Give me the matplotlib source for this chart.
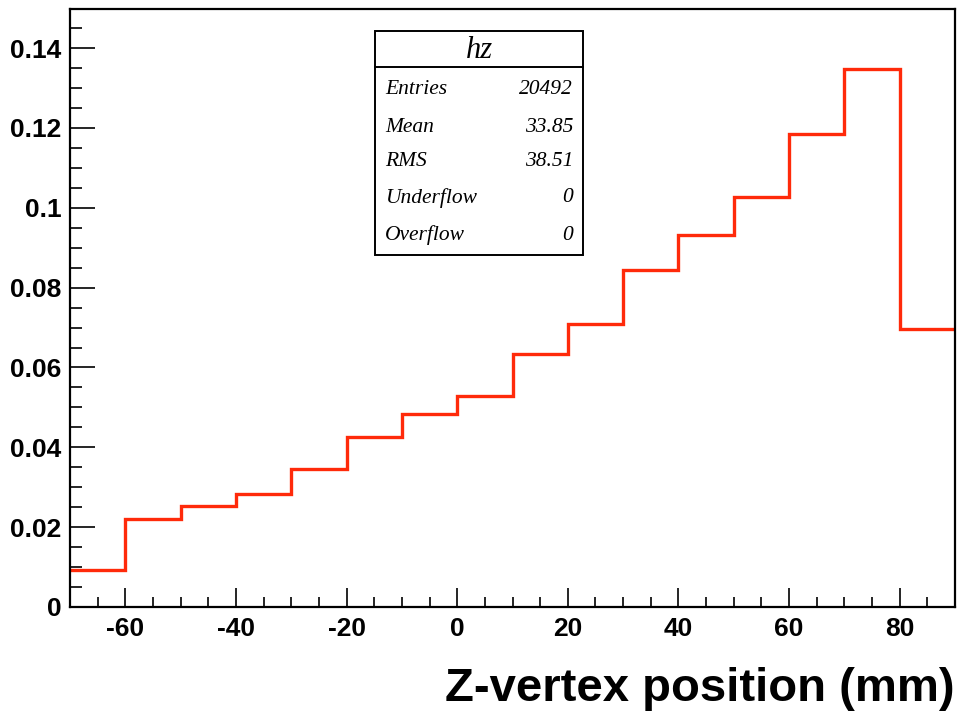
import numpy as np
import matplotlib
matplotlib.use("Agg")
import matplotlib.pyplot as plt
from matplotlib.patches import Rectangle
from matplotlib.ticker import MultipleLocator, FuncFormatter

# ---- data ----
bin_edges = [-70, -60, -50, -40, -30, -20, -10, 0, 10, 20, 30, 40, 50, 60, 70, 80, 90]
bin_values = [0.00935, 0.0220, 0.0253, 0.0282, 0.0345, 0.0426, 0.0484, 0.0529,
              0.0634, 0.0710, 0.0845, 0.0933, 0.1026, 0.1186, 0.1347, 0.0696]
stats_title = "hz"
stats_labels = ["Entries", "Mean", "RMS", "Underflow", "Overflow"]
stats_values = ["20492", "33.85", "38.51", "0", "0"]
x_label = "Z-vertex position (mm)"

W, H = 964, 711
fig = plt.figure(figsize=(W / 100, H / 100), dpi=100)
L, R, T, B = 70, 955, 9, 607
ax = fig.add_axes([L / W, 1 - B / H, (R - L) / W, (B - T) / H])

ax.stairs(bin_values, bin_edges, baseline=None, color="#ff2a0a", linewidth=2.4)

ax.set_xlim(-70, 90)
ax.set_ylim(0, 0.1498)

ax.xaxis.set_major_locator(MultipleLocator(20))
ax.xaxis.set_minor_locator(MultipleLocator(5))
ax.yaxis.set_major_locator(MultipleLocator(0.02))
ax.yaxis.set_minor_locator(MultipleLocator(0.005))


def yfmt(v, pos):
    if abs(v) < 1e-9:
        return "0"
    s = f"{v:.2f}"
    if s.endswith("0"):
        s = s[:-1]
    return s


ax.yaxis.set_major_formatter(FuncFormatter(yfmt))
ax.xaxis.set_major_formatter(FuncFormatter(lambda v, p: f"{int(round(v))}"))

ax.tick_params(axis="both", which="both", direction="in", top=False, right=False,
               width=1.2, color="black")
ax.tick_params(axis="y", which="major", length=18, pad=6)
ax.tick_params(axis="y", which="minor", length=8.6)
ax.tick_params(axis="x", which="major", length=14, pad=7)
ax.tick_params(axis="x", which="minor", length=7)
for lab in ax.get_xticklabels() + ax.get_yticklabels():
    lab.set_fontfamily("Liberation Sans")
    lab.set_fontweight("bold")
    lab.set_fontsize(19)

for sp in ax.spines.values():
    sp.set_linewidth(1.6)
    sp.set_color("black")

# x label at bottom right
fig.text(955 / W, 1 - 701 / H, x_label, ha="right", va="baseline",
         fontfamily="Liberation Sans", fontweight="bold", fontsize=34)

# ---- stats box (pixel coordinates converted to figure fraction) ----
bx0, bx1, by0, by1 = 375, 583, 31, 255
sep_y = 67
fig.patches.append(Rectangle((bx0 / W, 1 - by1 / H), (bx1 - bx0) / W, (by1 - by0) / H,
                             transform=fig.transFigure, facecolor="white",
                             edgecolor="black", linewidth=1.4, zorder=5))
fig.add_artist(plt.Line2D([bx0 / W, bx1 / W], [1 - sep_y / H, 1 - sep_y / H],
                          transform=fig.transFigure, color="black", linewidth=1.4, zorder=6))
fig.text((bx0 + bx1) / 2 / W, 1 - 50 / H, stats_title, ha="center", va="center",
         fontfamily="Liberation Serif", fontstyle="italic", fontsize=22, zorder=7)
row_y = [89, 127, 162, 198, 235]
for lab, val, yy in zip(stats_labels, stats_values, row_y):
    fig.text(385 / W, 1 - yy / H, lab, ha="left", va="center",
             fontfamily="Liberation Serif", fontstyle="italic", fontsize=15.5, zorder=7)
    fig.text(573 / W, 1 - yy / H, val, ha="right", va="center",
             fontfamily="Liberation Serif", fontstyle="italic", fontsize=15.5, zorder=7)

fig.savefig("out.png", dpi=100)
